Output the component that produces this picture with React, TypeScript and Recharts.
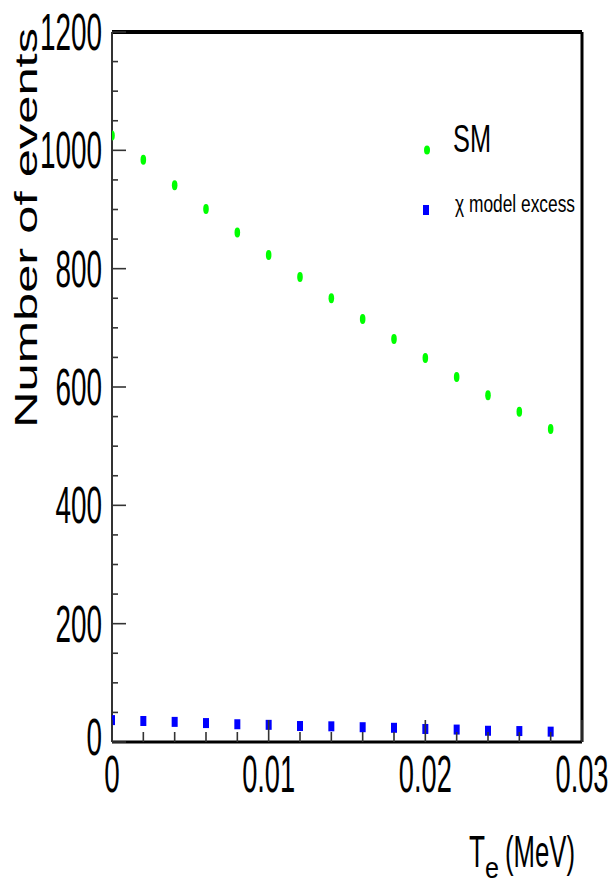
import React from "react";
import {
  ScatterChart,
  Scatter,
  XAxis,
  YAxis,
  ReferenceLine,
  Legend,
} from "recharts";

// electron recoil energy bins (MeV)
const xValues = [
  0, 0.002, 0.004, 0.006, 0.008, 0.01, 0.012, 0.014, 0.016, 0.018, 0.02,
  0.022, 0.024, 0.026, 0.028,
];
const smEvents = [
  1025, 984, 941, 901, 861, 823, 786, 750, 715, 681, 649, 617, 586, 558, 529,
];
const chiExcess = [
  37, 35.5, 34, 32, 30, 29, 27, 26.5, 25, 24, 22, 21, 19, 18.5, 17.5,
];

const xTicks = [
  0, 0.002, 0.004, 0.006, 0.008, 0.01, 0.012, 0.014, 0.016, 0.018, 0.02,
  0.022, 0.024, 0.026, 0.028, 0.03,
];
const xMajorTicks = [0, 0.01, 0.02, 0.03];
const xTickLabels = ["0", "0.01", "0.02", "0.03"];

const yTicks = [
  0, 50, 100, 150, 200, 250, 300, 350, 400, 450, 500, 550, 600, 650, 700, 750,
  800, 850, 900, 950, 1000, 1050, 1100, 1150, 1200,
];
const yMajorTicks = [0, 200, 400, 600, 800, 1000, 1200];

const smData = xValues.map((x, i) => ({ x, y: smEvents[i] }));
const chiData = xValues.map((x, i) => ({ x, y: chiExcess[i] }));

const NARROW = '"Liberation Sans Narrow", "Arial Narrow", "Liberation Sans", sans-serif';
const SANS = '"Liberation Sans", Arial, sans-serif';

const textWidth = (s: string) =>
  s.split("").reduce((w, c) => w + (c === "." ? 6.5 : 15.5), 0);

function YTick(props: any) {
  const { x, y, payload } = props;
  const v = payload.value;
  const major = yMajorTicks.includes(v);
  const s = String(v);
  return (
    <g>
      <line x1={x} x2={x + (major ? 14 : 6)} y1={y} y2={y} stroke="#333" strokeWidth={1.6} />
      {major && (
        <text
          x={x - 10}
          y={y + (v === 0 ? 13 : 18)}
          textAnchor="end"
          fontSize={51}
          fontFamily={NARROW}
          textLength={textWidth(s)}
          lengthAdjust="spacingAndGlyphs"
          fill="#000"
        >
          {s}
        </text>
      )}
    </g>
  );
}

function XTick(props: any) {
  const { x, y, payload } = props;
  const v = payload.value;
  const idx = xMajorTicks.findIndex((m) => Math.abs(m - v) < 1e-9);
  const major = idx >= 0;
  return (
    <g>
      <line x1={x} x2={x} y1={y} y2={y - (major ? 22 : 10)} stroke="#333" strokeWidth={1.6} />
      {major && (
        <text
          x={x}
          y={y + 50}
          textAnchor="middle"
          fontSize={51}
          fontFamily={NARROW}
          textLength={textWidth(xTickLabels[idx])}
          lengthAdjust="spacingAndGlyphs"
          fill="#000"
        >
          {xTickLabels[idx]}
        </text>
      )}
    </g>
  );
}

function YTitle(props: any) {
  const vb = props.viewBox || { x: 0, y: 32, width: 112, height: 710 };
  const tx = vb.x + 37;
  const ty = vb.y + 196;
  return (
    <text
      x={tx}
      y={ty}
      transform={`rotate(-90, ${tx}, ${ty})`}
      textAnchor="middle"
      fontSize={31}
      fontFamily={SANS}
      textLength={400}
      lengthAdjust="spacingAndGlyphs"
      fill="#000"
    >
      Number of events
    </text>
  );
}

function XTitle(props: any) {
  const vb = props.viewBox || { x: 112, y: 742, width: 470, height: 139 };
  const x0 = vb.x + vb.width - 113;
  const base = vb.y + 125;
  return (
    <g fill="#000" fontFamily={NARROW}>
      <text x={x0} y={base} fontSize={45} textLength={16} lengthAdjust="spacingAndGlyphs">
        T
      </text>
      <text x={x0 + 16} y={base + 11} fontSize={30} textLength={14} lengthAdjust="spacingAndGlyphs">
        e
      </text>
      <text x={x0 + 36} y={base} fontSize={45} textLength={70} lengthAdjust="spacingAndGlyphs">
        (MeV)
      </text>
    </g>
  );
}

function LegendBox(props: any) {
  const items = props.payload || [];
  const sm = items.find((p: any) => p.value === "SM");
  const chi = items.find((p: any) => p.value !== "SM");
  return (
    <svg width={200} height={110} style={{ display: "block" }}>
      <ellipse cx={27} cy={30} rx={3} ry={4.5} fill={sm ? sm.color : "#00ff00"} />
      <text x={53} y={32} fontSize={38} fontFamily={NARROW} textLength={38} lengthAdjust="spacingAndGlyphs" fill="#000">
        SM
      </text>
      <rect x={23} y={85} width={6} height={10} fill={chi ? chi.color : "#0000ff"} />
      <text x={55} y={92} fontSize={23} fontFamily={NARROW} textLength={120} lengthAdjust="spacingAndGlyphs" fill="#000">
        χ model excess
      </text>
    </svg>
  );
}

const GreenDot = (p: any) => <ellipse cx={p.cx} cy={p.cy} rx={2.8} ry={5} fill="#00ff00" />;
const BlueSquare = (p: any) => <rect x={p.cx - 3} y={p.cy - 5} width={6} height={10} fill="#0000ff" />;

export default function App() {
  return (
    <div style={{ position: "absolute", left: 0, top: 0, background: "#fff" }}>
      <ScatterChart width={616} height={881} margin={{ top: 32, right: 34, bottom: 0, left: 0 }}>
        <XAxis
          type="number"
          dataKey="x"
          domain={[0, 0.03]}
          ticks={xTicks}
          interval={0}
          allowDataOverflow
          height={139}
          tickSize={0}
          tickMargin={0}
          tick={<XTick />}
          axisLine={{ stroke: "#000", strokeWidth: 3 }}
          label={<XTitle />}
        />
        <YAxis
          type="number"
          dataKey="y"
          domain={[0, 1200]}
          ticks={yTicks}
          interval={0}
          width={112}
          tickSize={0}
          tickMargin={0}
          tick={<YTick />}
          axisLine={{ stroke: "#333", strokeWidth: 2 }}
          label={<YTitle />}
        />
        <ReferenceLine y={1200} stroke="#000" strokeWidth={4} />
        <ReferenceLine x={0.03} stroke="#000" strokeWidth={3} />
        <Legend
          layout="horizontal"
          verticalAlign="middle"
          align="center"
          content={<LegendBox />}
          wrapperStyle={{ position: "absolute", left: 400, top: 120, width: 200, height: 110 }}
        />
        <Scatter name="SM" data={smData} fill="#00ff00" shape={GreenDot} isAnimationActive={false} />
        <Scatter name="χ model excess" data={chiData} fill="#0000ff" shape={BlueSquare} isAnimationActive={false} />
      </ScatterChart>
    </div>
  );
}
